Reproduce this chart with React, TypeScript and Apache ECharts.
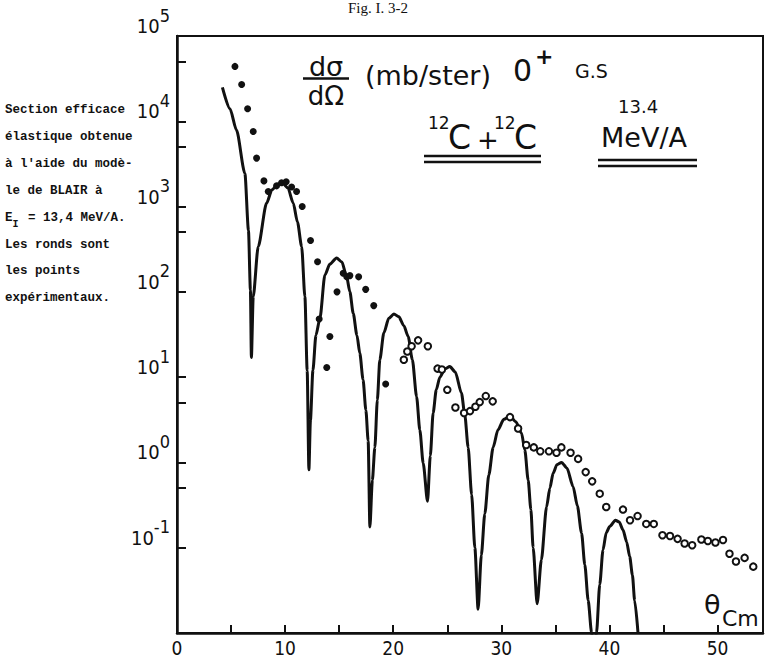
import React, { useEffect, useRef } from 'react';
import * as echarts from 'echarts';

// Theoretical curve (BLAIR model), angle in degrees (c.m.) and dσ/dΩ in mb/sr
const theoryX = [4.2, 4.9, 5.5, 6.28, 6.61, 6.79, 6.88,
  7.05, 7.51, 8.29, 8.78, 9.33, 9.8, 10.26, 10.75, 11.14, 11.53, 11.83, 12.04, 12.2,
  12.34, 12.57, 12.85, 13.22, 13.68, 14.14, 14.76, 15.25, 15.69, 15.99, 16.3, 16.64, 16.91, 17.21, 17.47, 17.68, 17.84,
  18.07, 18.3, 18.53, 18.76, 19.13, 19.59, 20.06, 20.52, 20.98, 21.38, 21.77, 22.16, 22.46, 22.77, 23.17,
  23.43, 23.69, 23.98, 24.31, 24.77, 25.23, 25.74, 26.31, 26.62, 26.93, 27.25, 27.55, 27.85,
  28.15, 28.47, 28.84, 29.24, 29.68, 30.23, 30.79, 31.34, 31.87, 32.17, 32.48, 32.73, 32.94, 33.31,
  33.7, 34.18, 34.49, 34.79, 35.14, 35.57, 36.06, 36.64, 37.03, 37.42, 37.72, 38.03, 38.35, 38.56,
  38.8, 39.1, 39.4, 39.7, 40.02, 40.55, 40.9, 41.25, 41.59, 41.87, 42.12, 42.33, 42.64];
const theoryY = [25000, 14000, 7900, 2450, 525, 105, 17,
  88, 339, 1100, 1570, 1840, 1860, 1650, 1100, 660, 339, 88, 12, 0.82,
  3.1, 12, 31, 49, 158, 212, 250, 224, 151, 100, 56, 31, 19, 9.3, 4.1, 1.8, 0.175,
  0.62, 1.5, 5.4, 16, 33, 49, 55, 51, 40, 30, 16, 5.9, 2.4, 0.98, 0.35,
  1.2, 3.8, 7.1, 10, 12.5, 13.3, 11.5, 6.5, 3.6, 1.5, 0.42, 0.1, 0.019,
  0.082, 0.25, 0.71, 1.5, 2.4, 3.2, 3.5, 3.0, 2.2, 1.4, 0.62, 0.28, 0.1, 0.022,
  0.072, 0.3, 0.5, 0.75, 0.94, 1.0, 0.86, 0.52, 0.31, 0.148, 0.063, 0.024, 0.01, 0.007,
  0.01, 0.037, 0.094, 0.15, 0.177, 0.21, 0.2, 0.162, 0.117, 0.079, 0.048, 0.024, 0.01];

// Experimental points, filled dots
const filledX = [5.36, 5.98, 6.53, 7.05, 7.36, 8.04, 8.44, 9.21, 9.67, 10.1, 10.6, 11.06, 11.58, 12.35, 13.0,
  13.15, 13.85, 14.14, 14.8, 15.37, 15.7, 15.99, 16.8, 17.45, 18.2, 19.3];
const filledY = [44000, 27000, 14000, 7600, 3700, 2000, 1500, 1750, 1900, 1950, 1700, 1500, 1000, 400, 225,
  48, 13, 30, 100, 165, 150, 155, 150, 107, 69, 8.3];

// Experimental points, open circles
const openX = [20.98, 21.3, 21.7, 22.3, 23.2, 24.1, 24.5, 25.0, 25.75, 26.55, 27.1, 27.6, 28.0, 28.56, 29.2,
  30.8, 31.55, 32.3, 33.0, 33.6, 34.4, 35.1, 35.55, 36.4, 37.1, 37.8, 38.4, 39.1, 39.7, 41.25, 41.9, 42.6,
  43.4, 44.1, 44.9, 45.6, 46.3, 46.95, 47.65, 48.5, 49.1, 49.8, 50.5, 51.1, 51.7, 52.5, 53.3];
const openY = [16, 20, 23, 27, 23, 12.6, 12.3, 7.1, 4.4, 3.8, 4.0, 4.5, 5.1, 6.0, 5.2,
  3.4, 2.5, 1.6, 1.5, 1.35, 1.35, 1.3, 1.5, 1.3, 1.1, 0.77, 0.6, 0.43, 0.3, 0.28, 0.21, 0.235,
  0.19, 0.19, 0.14, 0.137, 0.127, 0.112, 0.107, 0.125, 0.12, 0.115, 0.123, 0.085, 0.069, 0.076, 0.06];

// Axis ticks
const yMajorTicks = [0.01, 0.1, 1, 10, 100, 1000, 10000, 100000];
const yMinorTicks = [0.5, 5, 500, 5000, 50000];
const xTickLabels = ['0', '10', '20', '30', '40', '50'];

// Side caption
const noteLines = [
  'Section efficace',
  'élastique obtenue',
  "à l'aide du modè-",
  'le de BLAIR à',
  '__E__',
  'Les ronds sont',
  'les points',
  'expérimentaux.',
];

const INK = '#111';
const NARROW = '"Liberation Sans Narrow", "DejaVu Sans Condensed", "Liberation Sans", sans-serif';
const LETTER = '"DejaVu Sans", sans-serif';
const MONO = '"Liberation Mono", "DejaVu Sans Mono", monospace';

const txt = (x: number, y: number, text: string, size: number, extra: any = {}) => ({
  type: 'text',
  x,
  y,
  silent: true,
  style: {
    text,
    fontSize: size,
    fontFamily: LETTER,
    fill: INK,
    textAlign: 'left',
    textVerticalAlign: 'middle',
    ...extra,
  },
});

const hline = (x1: number, x2: number, y: number, w = 2.5) => ({
  type: 'line',
  silent: true,
  shape: { x1, y1: y, x2, y2: y },
  style: { stroke: INK, lineWidth: w },
});

function buildOption() {
  const noteGraphics = noteLines.map((line, i) => {
    const y = 110 + i * 26.9;
    if (line === '__E__') {
      return {
        type: 'text',
        x: 5,
        y,
        silent: true,
        style: {
          text: '{t|E}{s|I}{t| = 13,4 MeV/A.}',
          textVerticalAlign: 'middle',
          rich: {
            t: { fontFamily: MONO, fontSize: 12.5, fontWeight: 'bold', fill: INK, lineHeight: 24, verticalAlign: 'middle' },
            s: { fontFamily: MONO, fontSize: 10, fontWeight: 'bold', fill: INK, lineHeight: 24, verticalAlign: 'bottom', padding: [0, 2, 0, 0] },
          },
        },
      };
    }
    return txt(5, y, line, 12.5, { fontFamily: MONO, fontWeight: 'bold' });
  });

  const graphic = [
    ...noteGraphics,
    txt(378, 8, 'Fig. I. 3-2', 15, { fontFamily: '"Liberation Serif", serif', textAlign: 'center' }),
    // dσ / dΩ
    txt(326, 66, 'dσ', 27, { textAlign: 'center' }),
    hline(303, 349, 78.5, 2.5),
    txt(326, 96, 'dΩ', 26, { textAlign: 'center' }),
    txt(365, 75, '(mb/ster)', 27),
    txt(513, 70, '0', 30),
    txt(535, 56, '+', 22, { fontWeight: 'bold' }),
    txt(575, 71, 'G.S', 19),
    // 12C + 12C
    txt(428, 123, '12', 17),
    txt(448, 137, 'C', 33),
    txt(477, 140, '+', 26),
    txt(494, 123, '12', 17),
    txt(514, 137, 'C', 33),
    hline(424, 541, 156, 2.5),
    hline(424, 541, 162, 2.5),
    // energy
    txt(618, 106, '13.4', 18),
    txt(601, 137, 'MeV/A', 27),
    hline(598, 697, 160, 2.5),
    hline(598, 697, 166, 2.5),
    // theta c.m.
    txt(704, 604, 'θ', 27),
    txt(722, 618, 'Cm', 22),
  ];

  return {
    animation: false,
    backgroundColor: '#fff',
    grid: {
      left: 177,
      right: 3,
      top: 36,
      bottom: 25,
      show: true,
      borderColor: INK,
      borderWidth: 2,
      backgroundColor: 'transparent',
    },
    xAxis: {
      type: 'value',
      min: 0,
      max: 54.2,
      interval: 5,
      axisLine: { show: true, onZero: false, lineStyle: { color: INK, width: 2.5 } },
      axisTick: { show: true, inside: true, length: 8, lineStyle: { color: INK, width: 2 } },
      axisLabel: {
        color: INK,
        fontFamily: NARROW,
        fontSize: 19,
        margin: 5,
        showMaxLabel: false,
        formatter: (v: number) => (xTickLabels.includes(String(v)) ? String(v) : ''),
      },
      splitLine: { show: false },
    },
    yAxis: {
      type: 'log',
      logBase: 10,
      min: yMajorTicks[0],
      max: yMajorTicks[yMajorTicks.length - 1],
      interval: 1,
      axisLine: { show: true, lineStyle: { color: INK, width: 2.5 } },
      axisTick: {
        show: true,
        inside: true,
        length: 9,
        lineStyle: { color: INK, width: 2 },
        customValues: [...yMajorTicks, ...yMinorTicks],
      },
      axisLabel: {
        color: INK,
        margin: 7,
        verticalAlign: 'bottom',
        formatter: (v: number) => {
          const e = Math.round(Math.log10(v));
          if (e === -2) return '';
          return `{b|10}{e|${e}}`;
        },
        rich: {
          b: { fontFamily: NARROW, fontSize: 20, color: INK, lineHeight: 30, verticalAlign: 'bottom' },
          e: { fontFamily: NARROW, fontSize: 18, color: INK, lineHeight: 30, verticalAlign: 'top' },
        },
      },
      splitLine: { show: false },
    },
    series: [
      {
        type: 'line',
        name: 'BLAIR',
        data: theoryX.map((x, i) => [x, theoryY[i]]),
        showSymbol: false,
        symbol: 'none',
        smooth: 0.25,
        smoothMonotone: 'x',
        clip: true,
        lineStyle: { color: INK, width: 3 },
        z: 2,
      },
      {
        type: 'scatter',
        name: 'exp-filled',
        data: filledX.map((x, i) => [x, filledY[i]]),
        symbol: 'circle',
        symbolSize: 7,
        itemStyle: { color: INK, opacity: 1 },
        z: 3,
      },
      {
        type: 'scatter',
        name: 'exp-open',
        data: openX.map((x, i) => [x, openY[i]]),
        symbol: 'circle',
        symbolSize: 6.5,
        itemStyle: { color: '#fff', borderColor: INK, borderWidth: 2, opacity: 1 },
        z: 3,
      },
    ],
    graphic,
  };
}

export default function App() {
  const ref = useRef<HTMLDivElement>(null);
  useEffect(() => {
    if (!ref.current) return;
    const chart = echarts.init(ref.current, null, { renderer: 'svg' });
    chart.setOption(buildOption() as any);
    return () => chart.dispose();
  }, []);
  return (
    <div
      ref={ref}
      style={{ position: 'absolute', left: 0, top: 0, width: 766, height: 658, background: '#fff' }}
    />
  );
}
